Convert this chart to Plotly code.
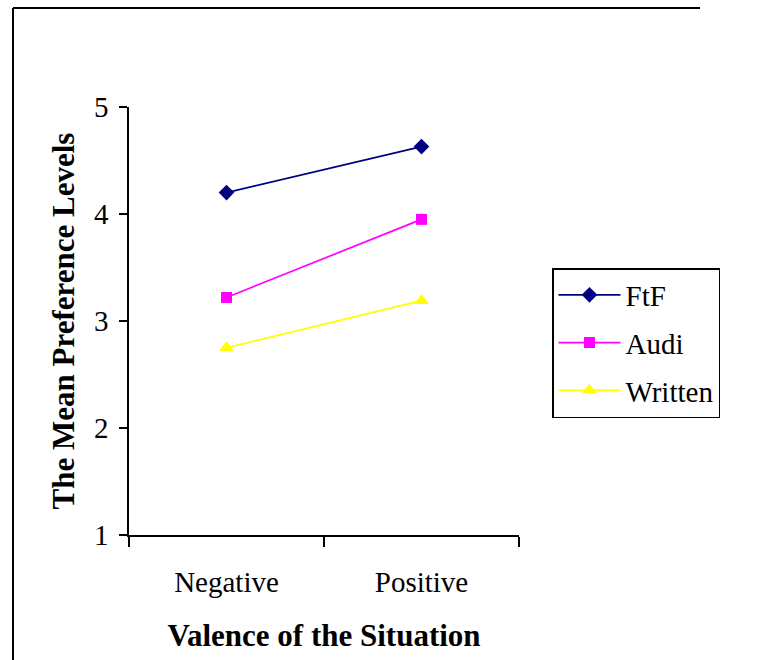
import plotly.graph_objects as go

categories = ["Negative", "Positive"]
ftf = [4.20, 4.63]
audi = [3.22, 3.95]
written = [2.75, 3.19]
y_ticks = [1, 2, 3, 4, 5]

W, H = 757, 660
L, R, T, B = 129, 238, 107, 125
pw, ph = W - L - R, H - T - B

def px_x(px):
    return (px - L) / pw

def px_y(py):
    return (H - B - py) / ph

fig = go.Figure()
series = [
    ("FtF", ftf, "#000080", "diamond", 12),
    ("Audi", audi, "#FF00FF", "square", 11),
    ("Written", written, "#FFFF00", "triangle-up", 13),
]
for name, vals, col, sym, sz in series:
    fig.add_trace(go.Scatter(
        x=categories, y=vals, name=name, mode="lines+markers",
        line=dict(color=col, width=1.7),
        marker=dict(symbol=sym, size=sz, color=col, line=dict(width=0)),
        legendgroup=name,
    ))

serif = "Liberation Serif, Times New Roman, serif"
fig.update_layout(
    width=W, height=H,
    margin=dict(l=L, r=R, t=T, b=B),
    paper_bgcolor="white", plot_bgcolor="white",
    font=dict(family=serif, size=29, color="black"),
    showlegend=True,
    legend=dict(
        x=px_x(552), y=px_y(268), xanchor="left", yanchor="top",
        bordercolor="black", borderwidth=1.5, bgcolor="white",
        font=dict(family=serif, size=29, color="black"),
        tracegroupgap=7, itemwidth=62,
    ),
    xaxis=dict(
        type="category", range=[-0.5, 1.5], tickson="boundaries",
        showline=True, linecolor="black", linewidth=1.5,
        ticks="outside", ticklen=10, tickwidth=1.5, tickcolor="black",
        showgrid=False, zeroline=False,
        ticklabelstandoff=20,
        title=dict(text="<b>Valence of the Situation</b>",
                   font=dict(family=serif, size=31), standoff=28),
    ),
    yaxis=dict(
        range=[1, 5], tickvals=y_ticks,
        showline=True, linecolor="black", linewidth=1.5,
        ticks="outside", ticklen=8, tickwidth=1.5, tickcolor="black",
        showgrid=False, zeroline=False,
        ticklabelstandoff=5,
        title=dict(text="<b>The Mean Preference Levels</b>",
                   font=dict(family=serif, size=31), standoff=10),
    ),
    shapes=[
        dict(type="line", xref="paper", yref="paper",
             x0=px_x(13), x1=px_x(13), y0=px_y(8), y1=px_y(720),
             line=dict(color="black", width=2)),
        dict(type="line", xref="paper", yref="paper",
             x0=px_x(13), x1=px_x(700), y0=px_y(8), y1=px_y(8),
             line=dict(color="black", width=2)),
    ],
)

fig.write_html("out.html")
